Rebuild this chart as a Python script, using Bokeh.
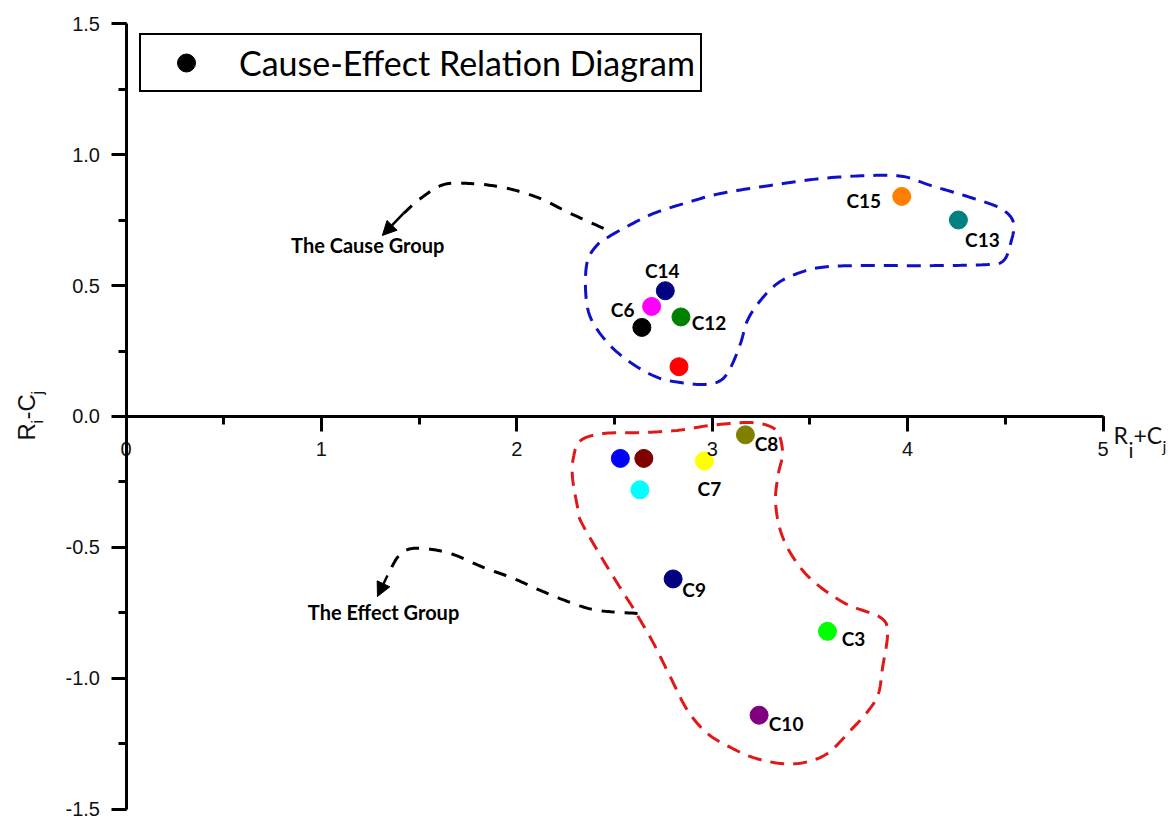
import numpy as np
from bokeh.plotting import figure
from bokeh.models import (ColumnDataSource, Range1d, LinearAxis, SingleIntervalTicker,
                          NumeralTickFormatter, Legend, LegendItem, Label, Arrow, NormalHead)
from bokeh.core.properties import value
from bokeh.embed import file_html
from bokeh.resources import INLINE

# ---------------- data ----------------
labels = ["C15", "C13", "C14", "C6", "", "C12", "", "", "", "", "C7", "C8", "C9", "C3", "C10"]
ri_plus_cj = [3.97, 4.26, 2.76, 2.69, 2.64, 2.84, 2.83, 2.53, 2.65, 2.63, 2.96, 3.17, 2.80, 3.59, 3.24]
ri_minus_cj = [0.84, 0.75, 0.48, 0.42, 0.34, 0.38, 0.19, -0.16, -0.16, -0.28, -0.17, -0.07, -0.62, -0.82, -1.14]
colors = ["#FF8000", "#008080", "#000080", "#FF00FF", "#000000", "#008000", "#FF0000",
          "#0000FF", "#800000", "#00FFFF", "#FFFF00", "#808000", "#000080", "#00FF00", "#800080"]
# label offsets in screen pixels (right, down)
label_dx = [-38, 24, -3, -29, 0, 28, 0, 0, 0, 0, 5, 21, 21, 26, 27]
label_dy = [4, 19, -20, 3, 0, 6, 0, 0, 0, 0, 27, 9, 11, 7, 8]

legend_label = "Cause-Effect Relation Diagram"

# annotation outlines (data units)
cause_x = [2.464, 2.546, 2.700, 2.874, 3.042, 3.298, 3.554, 3.810, 3.979, 4.117, 4.322, 4.476,
           4.542, 4.527, 4.491, 4.409, 4.153, 3.897, 3.723, 3.554, 3.437, 3.334, 3.247, 3.180,
           3.145, 3.094, 3.042, 2.955, 2.837, 2.720, 2.582, 2.464, 2.377, 2.352, 2.362, 2.418]
cause_y = [0.683, 0.718, 0.775, 0.817, 0.851, 0.882, 0.908, 0.920, 0.916, 0.882, 0.836, 0.794,
           0.740, 0.660, 0.595, 0.580, 0.576, 0.576, 0.576, 0.569, 0.546, 0.508, 0.443, 0.366,
           0.279, 0.187, 0.137, 0.122, 0.130, 0.149, 0.206, 0.282, 0.378, 0.481, 0.595, 0.660]
effect_x = [2.326, 2.444, 2.648, 2.822, 2.991, 3.180, 3.283, 3.339, 3.360, 3.339, 3.324, 3.349,
            3.411, 3.513, 3.682, 3.861, 3.897, 3.872, 3.851, 3.800, 3.708, 3.590, 3.467, 3.349,
            3.211, 3.094, 2.976, 2.874, 2.787, 2.700, 2.633, 2.597, 2.531, 2.428, 2.326, 2.311,
            2.285, 2.290]
effect_y = [-0.092, -0.065, -0.061, -0.053, -0.034, -0.023, -0.034, -0.065, -0.141, -0.218,
            -0.321, -0.435, -0.534, -0.626, -0.714, -0.767, -0.828, -0.958, -1.057, -1.122,
            -1.198, -1.286, -1.321, -1.324, -1.302, -1.263, -1.210, -1.122, -0.996, -0.866,
            -0.779, -0.733, -0.656, -0.531, -0.397, -0.347, -0.233, -0.156]
cause_arrow_x = [2.444, 2.275, 2.106, 1.932, 1.763, 1.625, 1.507, 1.420]
cause_arrow_y = [0.718, 0.775, 0.836, 0.874, 0.889, 0.885, 0.832, 0.775]
cause_tip = (1.312, 0.691)
effect_arrow_x = [2.618, 2.413, 2.275, 2.121, 1.983, 1.829, 1.661, 1.523, 1.441, 1.389, 1.338]
effect_arrow_y = [-0.752, -0.740, -0.710, -0.664, -0.618, -0.576, -0.523, -0.504, -0.508, -0.538, -0.607]
effect_tip = (1.287, -0.687)


def catmull(xs, ys, closed=False, n=14):
    P = np.column_stack([xs, ys]).astype(float)
    if closed:
        idx = lambda i: P[i % len(P)]
        segs = len(P)
    else:
        P = np.vstack([P[0] * 2 - P[1], P, P[-1] * 2 - P[-2]])
        idx = lambda i: P[i + 1]
        segs = len(P) - 3
    out = []
    for i in range(segs):
        p0, p1, p2, p3 = idx(i - 1), idx(i), idx(i + 1), idx(i + 2)
        for t in np.linspace(0, 1, n, endpoint=False):
            t2, t3 = t * t, t * t * t
            out.append(0.5 * (2 * p1 + (-p0 + p2) * t + (2 * p0 - 5 * p1 + 4 * p2 - p3) * t2
                              + (-p0 + 3 * p1 - 3 * p2 + p3) * t3))
    out.append(out[0] if closed else idx(segs))
    out = np.array(out)
    return out[:, 0], out[:, 1]


W, H = 1175, 820
p = figure(width=W, height=H, output_backend="svg", toolbar_location=None,
           x_range=Range1d(-0.6423, 5.371), y_range=Range1d(-1.542, 1.5878),
           x_axis_type=None, y_axis_type=None, min_border=0, title=None)
p.outline_line_color = None
p.background_fill_color = "white"
p.border_fill_color = "white"

axis_style = dict(axis_line_width=3, major_tick_line_width=3, minor_tick_line_width=3,
                  major_tick_in=0, major_tick_out=15, minor_tick_in=0, minor_tick_out=8,
                  major_label_text_font="Liberation Sans", major_label_text_font_size="20px",
                  major_label_text_color="#111111", major_label_standoff=11)
xaxis = LinearAxis(ticker=SingleIntervalTicker(interval=1, num_minor_ticks=2),
                   fixed_location=0, bounds=(0, 5), **axis_style)
yaxis = LinearAxis(ticker=SingleIntervalTicker(interval=0.5, num_minor_ticks=2),
                   formatter=NumeralTickFormatter(format="0.0"),
                   fixed_location=0, bounds=(-1.5, 1.5), **axis_style)
p.add_layout(xaxis, "below")
p.add_layout(yaxis, "left")

# group outlines
cx, cy = catmull(cause_x, cause_y, closed=True)
p.line(cx, cy, line_color="#1010c8", line_width=3, line_dash="14 9")
ex, ey = catmull(effect_x, effect_y, closed=True)
p.line(ex, ey, line_color="#e01818", line_width=3, line_dash="14 9")

# curved arrows
ax, ay = catmull(cause_arrow_x, cause_arrow_y)
p.line(ax, ay, line_color="black", line_width=3, line_dash="13 10")
p.add_layout(Arrow(end=NormalHead(size=14, fill_color="black", line_color="black"),
                   x_start=cause_arrow_x[-1], y_start=cause_arrow_y[-1],
                   x_end=cause_tip[0], y_end=cause_tip[1], line_color="black", line_width=2.5))
bx, by = catmull(effect_arrow_x, effect_arrow_y)
p.line(bx, by, line_color="black", line_width=3, line_dash="13 10")
p.add_layout(Arrow(end=NormalHead(size=14, fill_color="black", line_color="black"),
                   x_start=effect_arrow_x[-1], y_start=effect_arrow_y[-1],
                   x_end=effect_tip[0], y_end=effect_tip[1], line_color="black", line_width=2.5))

p.text([1.237], [0.653], text=["The Cause Group"], text_font=value("Lato"), text_font_style="bold",
       text_font_size="20px", text_align="center", text_baseline="middle", text_color="#000000")
p.text([1.318], [-0.748], text=["The Effect Group"], text_font=value("Lato"), text_font_style="bold",
       text_font_size="20px", text_align="center", text_baseline="middle", text_color="#000000")

src = ColumnDataSource(dict(x=ri_plus_cj, y=ri_minus_cj, color=colors, label=labels,
                            dx=label_dx, dy=label_dy))
pts = p.scatter("x", "y", source=src, size=18, fill_color="color", line_color="color")
p.text("x", "y", text="label", source=src, x_offset="dx", y_offset="dy",
       text_font=value("Lato"), text_font_style="bold", text_font_size="19px",
       text_align="center", text_baseline="middle", text_color="#000000")

legend = Legend(items=[LegendItem(label=legend_label, renderers=[pts], index=4)],
                location=(139, 728), label_text_font="Lato", label_text_font_size="34px",
                label_text_color="#000000",
                border_line_color="black", border_line_width=2, border_line_alpha=1,
                padding=5, margin=0, spacing=0,
                glyph_width=80, glyph_height=45, label_height=45, label_standoff=13,
                background_fill_color="white", background_fill_alpha=1)
p.add_layout(legend)

# axis titles built from pieces (R_i + C_j)
def lab(x, y, t, size, font, angle=0):
    p.add_layout(Label(x=x, y=y, text=t, text_font=font, text_font_size=size, angle=angle,
                       text_align="left", text_baseline="alphabetic", text_color="#111111"))

lab(5.054, -0.0725, "R", "23px", "Lato")
lab(5.131, -0.126, "i", "21px", "Lato")
lab(5.156, -0.0725, "+C", "23px", "Lato")
lab(5.305, -0.111, "j", "16px", "Lato")

ang = np.pi / 2
lab(-0.508, -0.0916, "R", "24px", "Liberation Sans", ang)
lab(-0.452, -0.0267, "i", "16px", "Liberation Sans", ang)
lab(-0.508, -0.0115, "-C", "24px", "Liberation Sans", ang)
lab(-0.452, 0.084, "j", "16px", "Liberation Sans", ang)

open("out.html", "w").write(file_html(p, INLINE))
